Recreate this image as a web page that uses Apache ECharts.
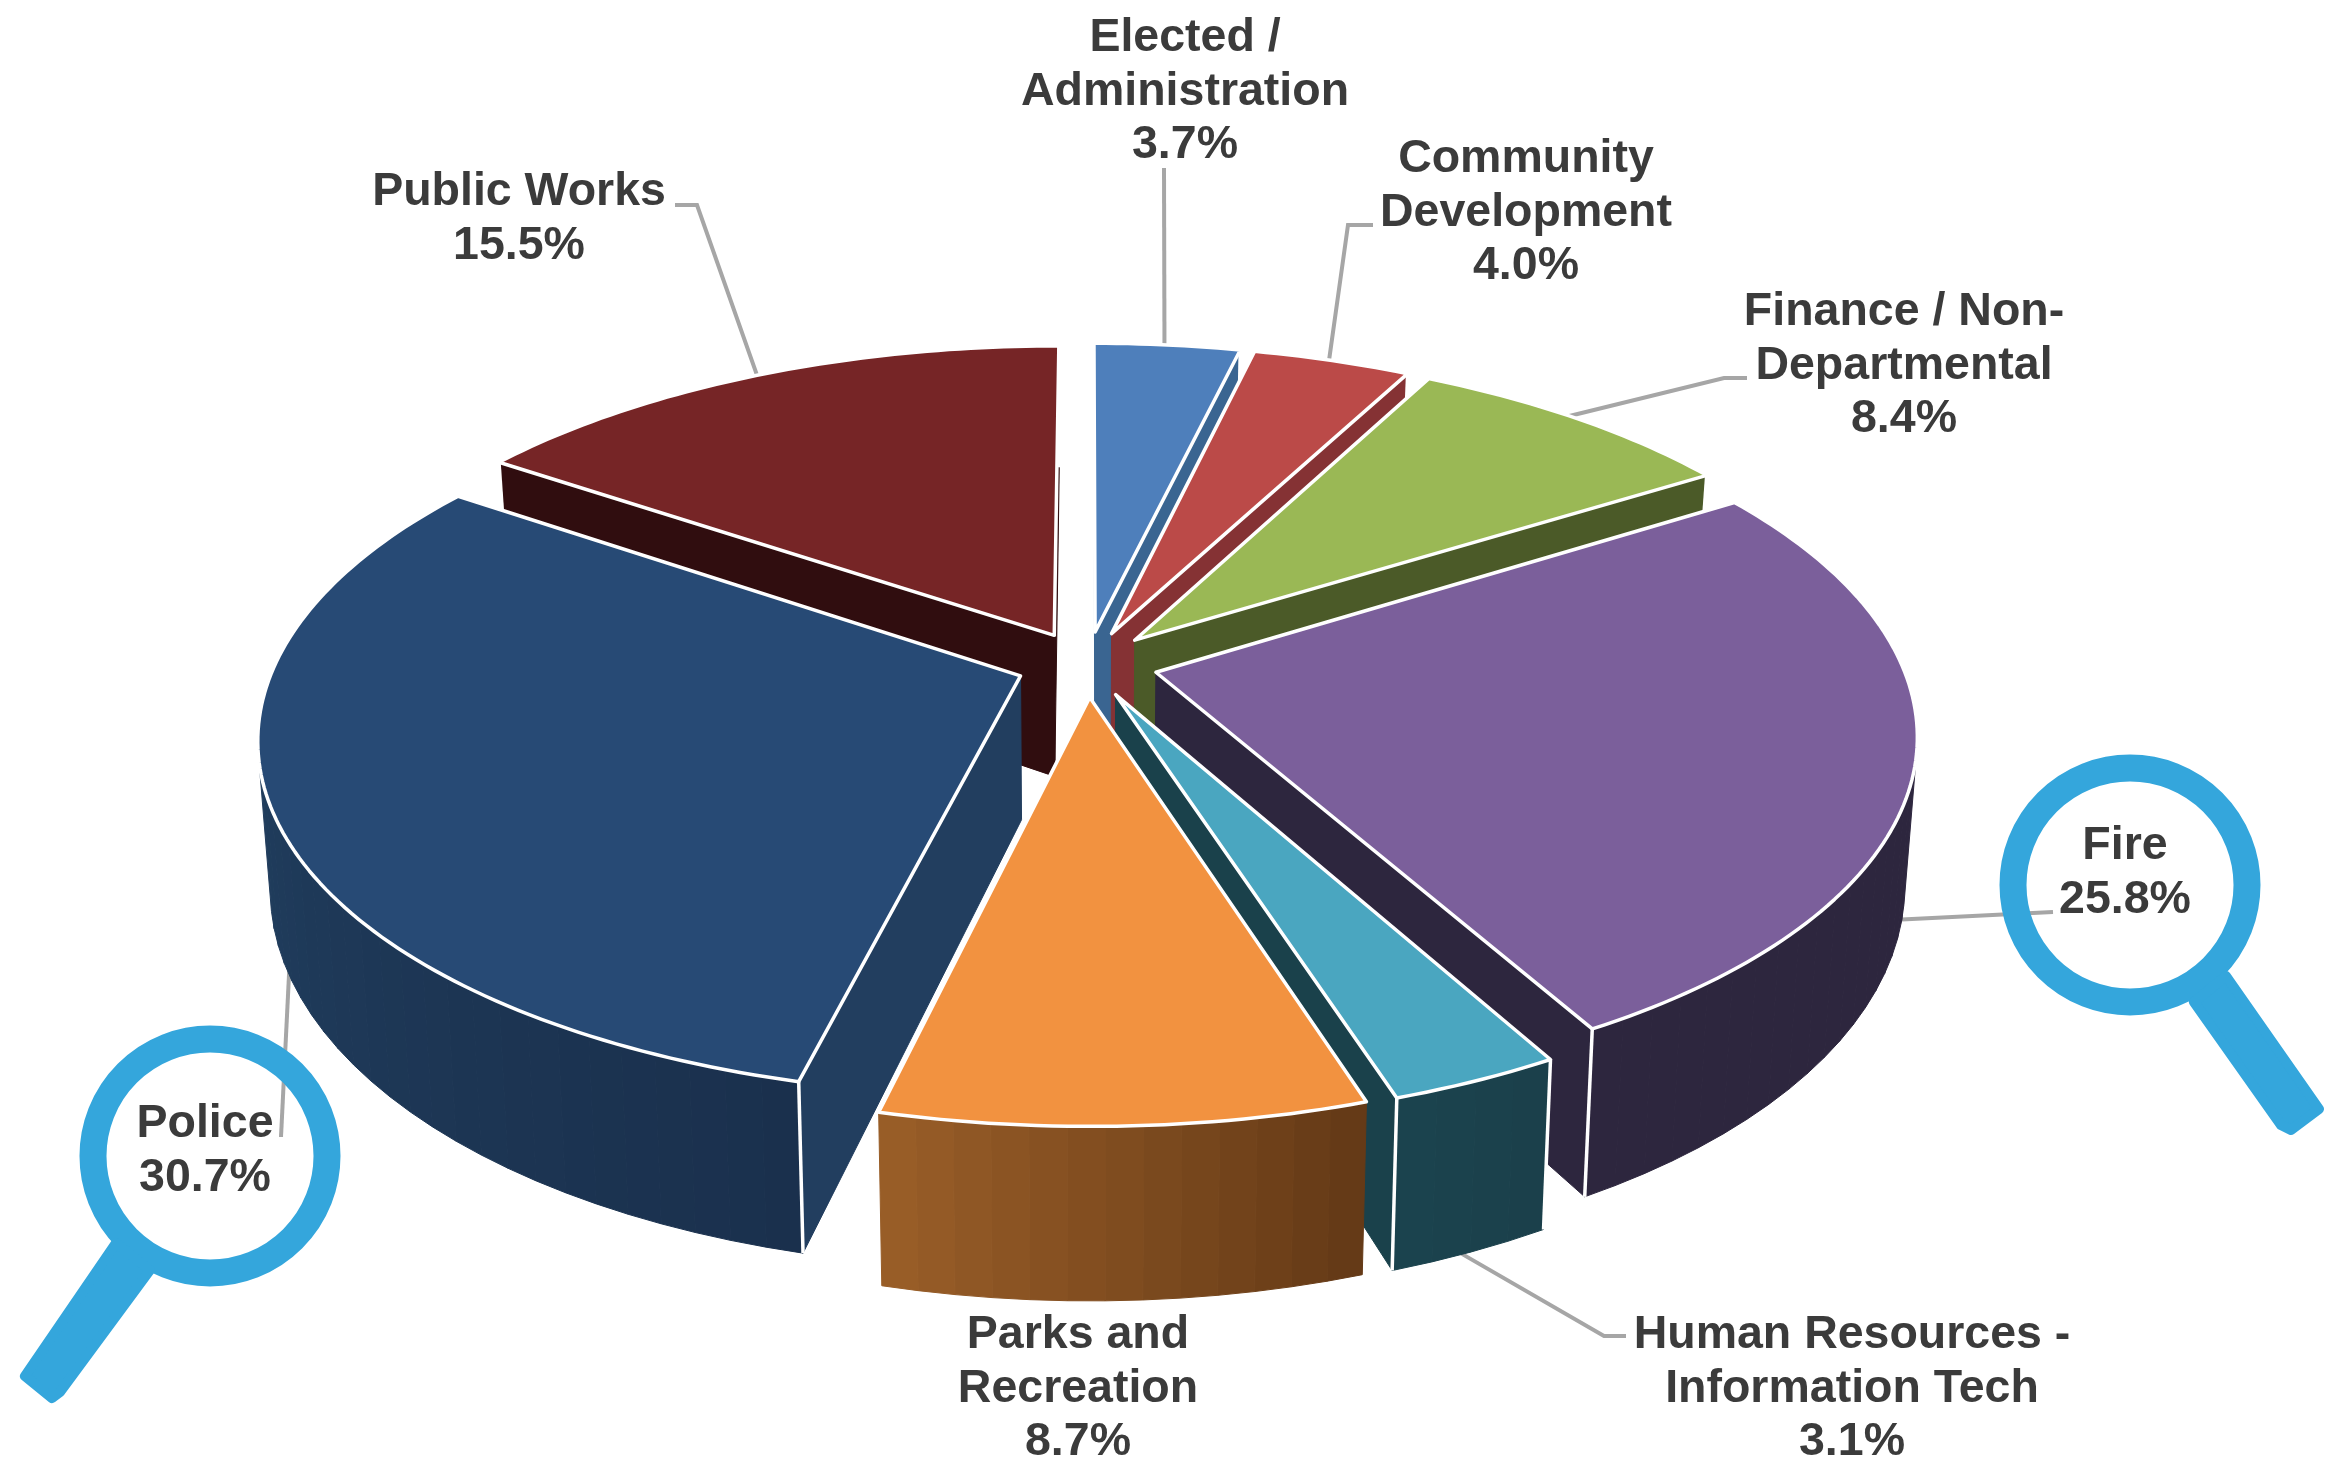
<!DOCTYPE html>
<html><head><meta charset="utf-8">
<style>html,body{margin:0;padding:0;background:#fff}#c{width:2325px;height:1468px}</style>
<script src="https://cdn.jsdelivr.net/npm/echarts@6/dist/echarts.min.js"></script>
</head><body><div id="c"></div>
<script>
const categories = ["Elected /\nAdministration","Community\nDevelopment","Finance / Non-\nDepartmental","Fire","Human Resources -\nInformation Tech","Parks and\nRecreation","Police","Public Works"];
const shares = [3.7,4.0,8.4,25.8,3.1,8.7,30.7,15.5];
const topColors = ["#4E7FBB","#BB4A48","#9AB855","#7B5F9B","#4AA6C0","#F29240","#274A75","#762526"];
const radialColors = ["#3A6591","#853234","#4B5A28","#2D263E","#1A414B","#6B3F18","#223E5F","#300D0F"];
const outerFrom = ["#3A6591","#853234","#4B5A28","#2D263E","#1B3F4A","#633916","#1A304D","#300D0F"];
const outerTo = ["#3A6591","#853234","#4B5A28","#2D263E","#1B434E","#9A5E28","#244668","#300D0F"];
const labelCenters = [[1185,92],[1526,213],[1904,366],[2125,873],[1852,1389],[1078,1389],[205,1151],[519,219]];
// leader: anchor position along the slice's rim (0..1), height on the wall (0 top .. 1 bottom), then elbow points
const leaderAnchors = [[0.48,0],[0.48,0],[0.47,0],[0.51,1],[0.62,0.95],null,[0.48,0.9],[0.5,0]];
const leaderBends = [[[1164,168]],[[1348,225],[1373,225]],[[1724,378],[1747,378]],[[2053,912]],[[1604,1336],[1626,1336]],null,[[281,1137]],[[697,205],[675,205]]];

const CX=1087, CY=664, A=746, B=346, K=0.165, EXPLODE=0.095, DEPTH=143, SHRINK=0.985;
const total = shares.reduce((a,b)=>a+b,0);
const starts = []; { let c=0; shares.forEach(v=>{starts.push(c/total*2*Math.PI); c+=v;}); }
const sweeps = shares.map(v=>v/total*2*Math.PI);
const mids = starts.map((s,i)=>s+sweeps[i]/2);
const rank = mids.map(m=>-Math.cos(m));
const order = rank.map((v,i)=>[v,i]).sort((a,b)=>a[0]-b[0]).map(p=>p[1]);

function project(u,v,h){
  const s=1/(1-K*v);
  let x=A*u*s, y=B*v*s;
  if(h){ x*=1-(1-SHRINK)*h; y+=DEPTH*s*h; }
  return [CX+x,CY+y];
}
function pt(i,theta,r,h){
  const m=mids[i];
  return project(r*Math.sin(theta)+EXPLODE*Math.sin(m), -r*Math.cos(theta)-EXPLODE*Math.cos(m), h);
}
function area(p){let a=0;for(let i=0;i<p.length;i++){const q=p[(i+1)%p.length];a+=p[i][0]*q[1]-q[0]*p[i][1];}return a/2;}
function mix(a,b,t){const h=c=>[1,3,5].map(o=>parseInt(c.substr(o,2),16));const x=h(a),y=h(b);return 'rgb('+x.map((v,i)=>Math.round(v+(y[i]-v)*t)).join(',')+')';}

function renderItem(params,api){
  const i=params.dataIndex, s0=starts[i], sw=sweeps[i], s1=s0+sw;
  const base=(order.indexOf(i)+1)*10, ch=[];
  const poly=(pts,fill,z,stroke,lw)=>ch.push({type:'polygon',shape:{points:pts},z2:z,silent:true,style:{fill:fill,stroke:stroke||fill,lineWidth:lw===undefined?1:lw,lineJoin:'round'}});
  const line=(pts,col,lw,z)=>ch.push({type:'polyline',shape:{points:pts},z2:z,silent:true,style:{fill:null,stroke:col,lineWidth:lw,lineJoin:'miter'}});
  // radial walls
  [s0,s1].forEach((th,k)=>{
    const w=[pt(i,th,0,0),pt(i,th,1,0),pt(i,th,1,1),pt(i,th,0,1)];
    const a=area(w);
    if(k===0? a<0 : a>0){ poly(w,radialColors[i],base+1); line([w[1],w[2]],'#ffffff',3.5,base+3); }
    else if(categories[i].startsWith("Human")){ line([w[1],w[2]],'#ffffff',3.5,base+3); }
  });
  // outer wall, in narrow bands
  const n=Math.max(3,Math.round(sw/(Math.PI/72)));
  for(let j=0;j<n;j++){
    const a=s0+sw*j/n,b=s0+sw*(j+1)/n;
    const q=[pt(i,a,1,0),pt(i,b,1,0),pt(i,b,1,1),pt(i,a,1,1)];
    if(area(q)<0){ poly(q,mix(outerFrom[i],outerTo[i],(j+0.5)/n),base+2); }
  }
  // top face
  const top=[pt(i,s0,0,0)];
  const m=Math.max(6,Math.round(sw/(Math.PI/180)));
  for(let j=0;j<=m;j++) top.push(pt(i,s0+sw*j/m,1,0));
  poly(top,topColors[i],base+5,'#ffffff',3.5);
  // leader, under the wedges so it emerges at their edge
  if(leaderAnchors[i]){
    const la=leaderAnchors[i], st=pt(i,s0+sw*la[0],1,la[1]);
    line([st].concat(leaderBends[i]),'#A6A6A6',4,1);
  }
  // label
  const c=labelCenters[i];
  ch.push({type:'text',x:c[0],y:c[1],z2:1100,silent:true,style:{
    text:categories[i]+"\n"+shares[i].toFixed(1)+"%",fill:'#3B3B3B',fontFamily:'"Liberation Sans",Arial,sans-serif',fontWeight:'bold',fontSize:46.5,lineHeight:53.5,align:'center',verticalAlign:'middle'}});
  return {type:'group',children:ch};
}

function magnifier(c,handle){
  return [
    {type:'circle',z:20,silent:true,shape:{cx:c[0],cy:c[1],r:117},style:{fill:null,stroke:'#34A6DC',lineWidth:27}},
    {type:'polygon',z:20,silent:true,shape:{points:handle},style:{fill:'#34A6DC',stroke:'#34A6DC',lineWidth:10,lineJoin:'round'}}
  ];
}
const chart=echarts.init(document.getElementById('c'),null,{renderer:'canvas'});
chart.setOption({
  animation:false,
  backgroundColor:'#ffffff',
  graphic:{elements:[].concat(
    magnifier([210,1156],[[116,1243],[150,1270],[60,1392],[52,1398],[25,1376]]),
    magnifier([2130,885],[[2226,976],[2194,1002],[2281,1125],[2291,1130],[2319,1109]])
  )},
  series:[{type:'custom',coordinateSystem:'none',renderItem:renderItem,
    data:shares.map((v,i)=>({name:categories[i],value:v}))}]
});
</script></body></html>
